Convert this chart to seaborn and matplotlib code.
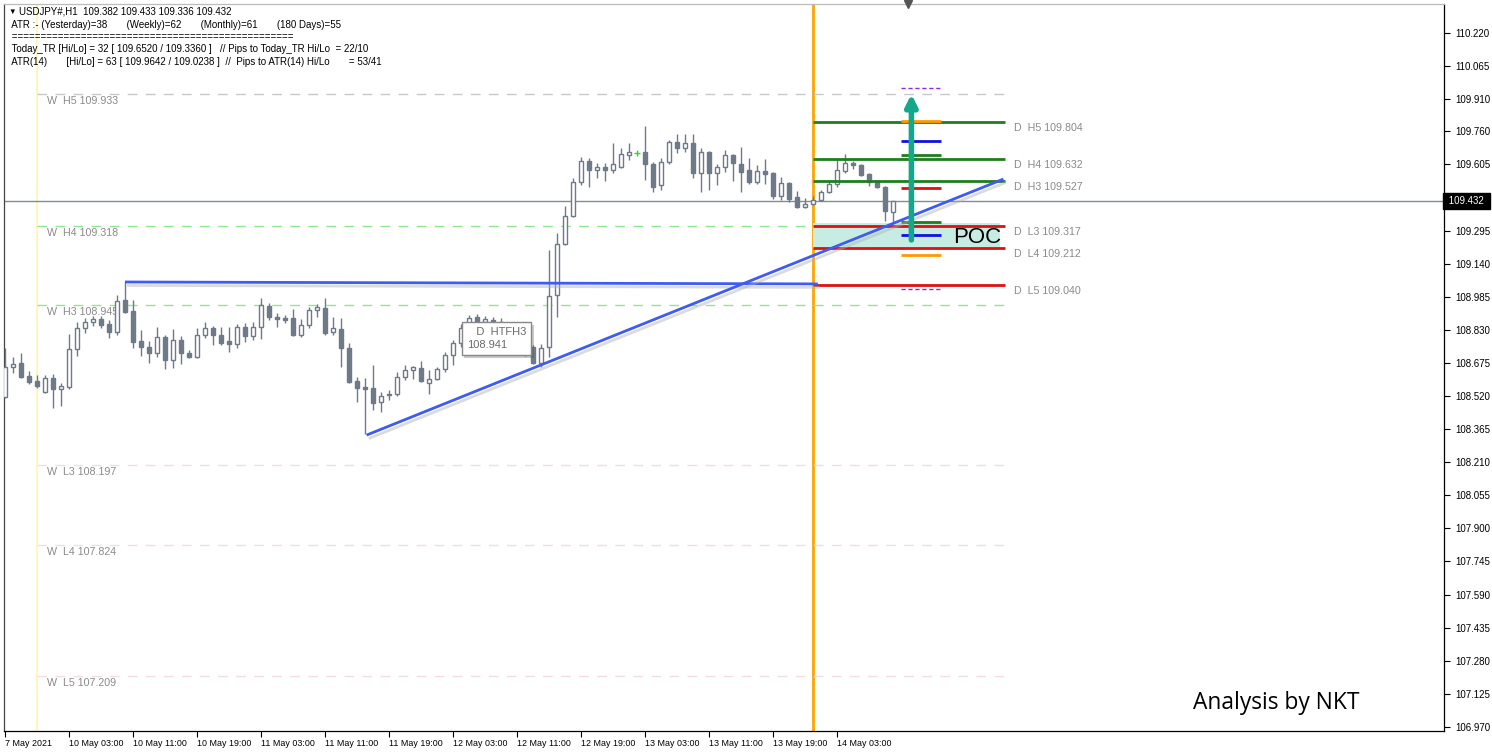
import warnings
warnings.filterwarnings("ignore")

import numpy as np
import pandas as pd
import matplotlib
matplotlib.use("Agg")
import matplotlib.pyplot as plt
import matplotlib.patheffects as pe
import matplotlib.transforms as mtransforms
from matplotlib.patches import Rectangle
import seaborn as sns

# -------------------------------------------------
# Plot Settings
# -------------------------------------------------
sns.set_theme(style="white")
plt.rcParams['font.family'] = ['Liberation Sans', 'DejaVu Sans']

# -------------------------------------------------
# Data (USDJPY H1, 7 May 19:00 -> 14 May 10:00)
# -------------------------------------------------
opens = [
    108.515, 108.655, 108.674, 108.613, 108.590, 108.539, 108.604, 108.553, 108.562, 108.740,
    108.839, 108.867, 108.881, 108.857, 108.820, 108.969, 108.918, 108.778, 108.750, 108.721,
    108.796, 108.688, 108.782, 108.721, 108.702, 108.806, 108.839, 108.806, 108.778, 108.764,
    108.843, 108.801, 108.843, 108.941, 108.890, 108.886, 108.886, 108.806, 108.853, 108.923,
    108.932, 108.820, 108.834, 108.745, 108.590, 108.562, 108.558, 108.492, 108.529, 108.529,
    108.608, 108.641, 108.651, 108.581, 108.599, 108.646, 108.712, 108.768, 108.857, 108.890,
    108.867, 108.876, 108.867, 108.829, 108.782, 108.735, 108.750, 108.674, 108.750, 108.993,
    109.232, 109.363, 109.522, 109.620, 109.578, 109.592, 109.578, 109.592, 109.649, 109.658,
    109.663, 109.606, 109.508, 109.616, 109.709, 109.681, 109.705, 109.564, 109.663, 109.564,
    109.592, 109.649, 109.606, 109.578, 109.522, 109.574, 109.564, 109.457, 109.518, 109.452,
    109.405, 109.419, 109.438, 109.475, 109.513, 109.574, 109.611, 109.602, 109.560, 109.527,
    109.499, 109.382,
]
highs = [
    108.745, 108.702, 108.721, 108.636, 108.618, 108.618, 108.622, 108.581, 108.810, 108.867,
    108.886, 108.895, 108.895, 108.876, 108.993, 109.054, 108.969, 108.829, 108.778, 108.843,
    108.806, 108.834, 108.801, 108.735, 108.839, 108.867, 108.848, 108.843, 108.843, 108.857,
    108.862, 108.867, 108.978, 108.955, 108.909, 108.899, 108.927, 108.881, 108.937, 108.951,
    108.978, 108.890, 108.886, 108.768, 108.608, 108.604, 108.665, 108.539, 108.548, 108.632,
    108.665, 108.660, 108.684, 108.641, 108.655, 108.726, 108.782, 108.857, 108.899, 108.904,
    108.895, 108.890, 108.886, 108.848, 108.801, 108.782, 108.759, 108.764, 109.204, 109.283,
    109.410, 109.541, 109.639, 109.634, 109.611, 109.611, 109.705, 109.681, 109.705, 109.672,
    109.785, 109.616, 109.634, 109.719, 109.747, 109.747, 109.747, 109.681, 109.667, 109.606,
    109.672, 109.653, 109.686, 109.634, 109.602, 109.630, 109.569, 109.546, 109.522, 109.480,
    109.447, 109.457, 109.485, 109.527, 109.634, 109.653, 109.620, 109.606, 109.564, 109.532,
    109.504, 109.433,
]
lows = [
    108.510, 108.627, 108.604, 108.576, 108.558, 108.534, 108.464, 108.473, 108.553, 108.707,
    108.815, 108.848, 108.839, 108.792, 108.806, 108.909, 108.745, 108.707, 108.674, 108.702,
    108.646, 108.651, 108.669, 108.698, 108.698, 108.792, 108.759, 108.759, 108.726, 108.745,
    108.773, 108.782, 108.787, 108.876, 108.843, 108.862, 108.801, 108.796, 108.839, 108.890,
    108.806, 108.806, 108.655, 108.581, 108.492, 108.341, 108.454, 108.445, 108.501, 108.520,
    108.595, 108.599, 108.586, 108.529, 108.595, 108.632, 108.665, 108.750, 108.843, 108.848,
    108.848, 108.839, 108.810, 108.764, 108.726, 108.707, 108.669, 108.655, 108.702, 108.890,
    109.227, 109.358, 109.508, 109.499, 109.541, 109.527, 109.564, 109.588, 109.625, 109.644,
    109.532, 109.475, 109.485, 109.606, 109.658, 109.663, 109.541, 109.475, 109.485, 109.508,
    109.569, 109.527, 109.475, 109.513, 109.513, 109.513, 109.443, 109.438, 109.429, 109.401,
    109.401, 109.415, 109.433, 109.471, 109.499, 109.564, 109.583, 109.550, 109.504, 109.494,
    109.339, 109.336,
]
closes = [
    108.655, 108.669, 108.608, 108.586, 108.567, 108.604, 108.553, 108.567, 108.740, 108.839,
    108.867, 108.881, 108.853, 108.820, 108.964, 108.914, 108.773, 108.750, 108.721, 108.796,
    108.688, 108.782, 108.721, 108.702, 108.806, 108.839, 108.806, 108.768, 108.764, 108.843,
    108.801, 108.843, 108.946, 108.890, 108.881, 108.876, 108.806, 108.853, 108.923, 108.937,
    108.815, 108.839, 108.745, 108.586, 108.558, 108.553, 108.487, 108.520, 108.525, 108.608,
    108.641, 108.655, 108.590, 108.599, 108.646, 108.712, 108.768, 108.839, 108.886, 108.862,
    108.881, 108.857, 108.829, 108.782, 108.745, 108.754, 108.674, 108.745, 108.988, 109.232,
    109.363, 109.522, 109.620, 109.578, 109.592, 109.578, 109.606, 109.653, 109.663, 109.658,
    109.606, 109.499, 109.616, 109.709, 109.681, 109.705, 109.564, 109.663, 109.564, 109.592,
    109.649, 109.611, 109.569, 109.522, 109.574, 109.560, 109.457, 109.518, 109.443, 109.405,
    109.419, 109.438, 109.475, 109.513, 109.578, 109.611, 109.602, 109.555, 109.522, 109.499,
    109.386, 109.432,
]

# weekly pivot levels
week_names = ["W  H5", "W  H4", "W  H3", "W  L3", "W  L4", "W  L5"]
week_values = [109.933, 109.318, 108.945, 108.197, 107.824, 107.209]
week_colors = ["#c8c8c8", "#8fe88f", "#8fe88f", "#f3dede", "#f3dede", "#f3dede"]

# daily pivot levels
day_names = ["D  H5", "D  H4", "D  H3", "D  L3", "D  L4", "D  L5"]
day_values = [109.804, 109.632, 109.527, 109.317, 109.212, 109.040]
day_colors = ["#1e7d1e", "#1e7d1e", "#1e7d1e", "#e01010", "#e01010", "#e01010"]

# short range markers (ATR / today range)
marker_values = [109.809, 109.715, 109.650, 109.492, 109.336, 109.274, 109.182]
marker_colors = ["#ff9900", "#1010e0", "#1e7d1e", "#e01010", "#1e7d1e", "#1010e0", "#ff9900"]
atr_hi, atr_lo = 109.961, 109.020

poc_top, poc_bottom = 109.330, 109.212
trend_start, trend_end = (45.2, 108.337), (124.8, 109.536)
flat_start, flat_end = (15, 109.054), (101.6, 109.045)
arrow_from, arrow_to = 109.251, 109.934
last_price = 109.432
htf_h3 = 108.941

tick_prices = [110.220, 110.065, 109.910, 109.760, 109.605, 109.450, 109.295, 109.140,
               108.985, 108.830, 108.675, 108.520, 108.365, 108.210, 108.055, 107.900,
               107.745, 107.590, 107.435, 107.280, 107.125, 106.970]
time_labels = ["7 May 2021", "10 May 03:00", "10 May 11:00", "10 May 19:00", "11 May 03:00",
               "11 May 11:00", "11 May 19:00", "12 May 03:00", "12 May 11:00", "12 May 19:00",
               "13 May 03:00", "13 May 11:00", "13 May 19:00", "14 May 03:00"]
time_pos = [0, 8, 16, 24, 32, 40, 48, 56, 64, 72, 80, 88, 96, 104]

df = pd.DataFrame({"open": opens, "high": highs, "low": lows, "close": closes})
df["idx"] = np.arange(len(df))
df["up"] = df["close"] >= df["open"]
df["doji"] = df["close"] == df["open"]

# -------------------------------------------------
# Figure
# -------------------------------------------------
fig = plt.figure(figsize=(14.92, 7.53), dpi=100)
ax = fig.add_axes([4 / 1492, 22 / 753, 1440 / 1492, 727 / 753])
ax.set_xlim(-0.125, 179.875)
ax.set_ylim(106.951, 110.356)

candle_col = "#6e7a88"
edge_col = "#6e7a88"

# vertical session lines
ax.axvline(4, color="#fff3b0", lw=1.2, zorder=1)
ax.axvline(101, color="#ffa500", lw=2, zorder=1)
ax.axhline(last_price, color="#7f8c99", lw=1, zorder=2)

# weekly levels
ax.hlines(week_values, 4, 125, colors=week_colors, lw=1, linestyles=(0, (7, 6)), zorder=1)
for name, val in zip(week_names, week_values):
    ax.annotate(f"{name} {val:.3f}", (5.3, val), xytext=(0, -7), textcoords="offset pixels",
                va="center", ha="left", fontsize=7.7, color="#8a8a8a")

# POC zone
ax.add_patch(Rectangle((101, poc_bottom), 23.4, poc_top - poc_bottom,
                       facecolor="#c7ece4", edgecolor="none", zorder=1))

# candles
non_doji = df[~df["doji"]]
ax.vlines(non_doji["idx"], non_doji["low"], non_doji["high"], color=edge_col, lw=1, zorder=3)
body = (df["close"] - df["open"]).abs().clip(lower=0.004)
bottom = df[["open", "close"]].min(axis=1)
up = df["up"] & ~df["doji"]
dn = ~df["up"]
ax.bar(df.loc[up, "idx"], body[up], bottom=bottom[up], width=0.62,
       color="white", edgecolor=edge_col, lw=1, zorder=4)
ax.bar(df.loc[dn, "idx"], body[dn], bottom=bottom[dn], width=0.62,
       color=candle_col, edgecolor=edge_col, lw=1, zorder=4)
dj = df[df["doji"]]
ax.vlines(dj["idx"], dj["low"], dj["high"], color="#22dd22", lw=1, zorder=4)
ax.hlines(dj["close"], dj["idx"] - 0.35, dj["idx"] + 0.35, color="#22dd22", lw=1, zorder=4)

# daily levels
ax.hlines(day_values, 101, 125, colors=day_colors, lw=2, zorder=5)
for name, val in zip(day_names, day_values):
    ax.annotate(f"{name} {val:.3f}", (126.1, val), xytext=(0, -6), textcoords="offset pixels",
                va="center", ha="left", fontsize=7.7, color="#8a8a8a")

# range markers
ax.hlines(marker_values, 112, 117, colors=marker_colors, lw=2, zorder=5)
ax.hlines([atr_hi, atr_lo], 112, 117, colors="#8a2be2", lw=1, linestyles=(0, (3, 2)), zorder=5)

# blue lines with soft shadow
shadow = [pe.SimpleLineShadow(offset=(1.5, -2.5), shadow_color="#b0b0b0", alpha=0.45), pe.Normal()]
ax.plot([flat_start[0], flat_end[0]], [flat_start[1], flat_end[1]], color="#3d5bf5", lw=2,
        zorder=6, path_effects=shadow, solid_capstyle="butt")
ax.plot([trend_start[0], trend_end[0]], [trend_start[1], trend_end[1]], color="#3d5bf5", lw=2,
        zorder=6, path_effects=shadow, solid_capstyle="butt")

# arrow
ax.annotate("", xy=(113.3, arrow_to), xytext=(113.3, arrow_from),
            arrowprops=dict(arrowstyle="-|>", color="#14a88a", lw=4, mutation_scale=17,
                            shrinkA=0, shrinkB=0), zorder=7)

ax.text(118.5, 109.264, "POC", fontsize=16, color="black", va="center", ha="left", zorder=7)

# HTF H3 box
t = ax.text(57.7, 108.788, "   D  HTFH3\n108.941", fontsize=8, color="#6a6a6a", va="center",
            ha="left", linespacing=1.35, zorder=8,
            bbox=dict(boxstyle="square,pad=0.45", facecolor="white", edgecolor="#888888", lw=1))
t.get_bbox_patch().set_path_effects([pe.withSimplePatchShadow(offset=(2, -2), alpha=0.3)])

# chart shift marker
ax.plot([112.9], [110.356], marker="v", ms=6, color="#555555", clip_on=False, zorder=9)

# axes
ax.yaxis.tick_right()
ax.set_yticks(tick_prices)
ax.set_yticklabels([f"{v:.3f}" for v in tick_prices], fontsize=7, color="black")
ax.set_xticks(time_pos)
ax.set_xticklabels(time_labels, fontsize=6.4, color="black", ha="left")
ax.tick_params(axis="y", which="both", direction="out", length=4, width=0.8, colors="black",
               labelcolor="black", pad=4, right=True, left=False)
ax.tick_params(axis="x", which="both", direction="out", length=4, width=0.8, colors="black",
               labelcolor="black", pad=2, bottom=True)
for lab in ax.get_xticklabels():
    lab.set_horizontalalignment("left")
for s in ax.spines.values():
    s.set_color("black")
    s.set_linewidth(0.9)
ax.spines["top"].set_color("#bbbbbb")
ax.spines["left"].set_color("#444444")

# current price label (sits over the 109.450 tick like the terminal does)
trans = mtransforms.blended_transform_factory(ax.transAxes, ax.transData)
ax.text(1.0015, last_price, " 109.432 ", transform=trans, fontsize=7, color="white",
        va="center", ha="left", zorder=10,
        bbox=dict(boxstyle="square,pad=0.3", facecolor="black", edgecolor="black"))

# header
header = [
    "USDJPY#,H1  109.382 109.433 109.336 109.432",
    " ATR :- (Yesterday)=38       (Weekly)=62       (Monthly)=61       (180 Days)=55",
    " =================================================",
    " Today_TR [Hi/Lo] = 32 [ 109.6520 / 109.3360 ]   // Pips to Today_TR Hi/Lo  = 22/10",
    " ATR(14)       [Hi/Lo] = 63 [ 109.9642 / 109.0238 ]  //  Pips to ATR(14) Hi/Lo       = 53/41",
]
fig.text(8 / 1492, 1 - 12 / 753, "\u25bc", fontsize=5.5, color="black", va="center", ha="left")
fig.text(19 / 1492, 1 - 12 / 753, header[0], fontsize=7, color="black", va="center", ha="left")
for i, line in enumerate(header[1:]):
    fig.text(9 / 1492, 1 - (25 + 12.2 * i) / 753, line, fontsize=7, color="black",
             va="center", ha="left")

fig.text(1193 / 1492, 1 - 703 / 753, "Analysis by NKT", fontsize=16.4, color="black",
         va="center", ha="left", family=["Open Sans", "DejaVu Sans"])

plt.savefig("out.png", dpi=100)
